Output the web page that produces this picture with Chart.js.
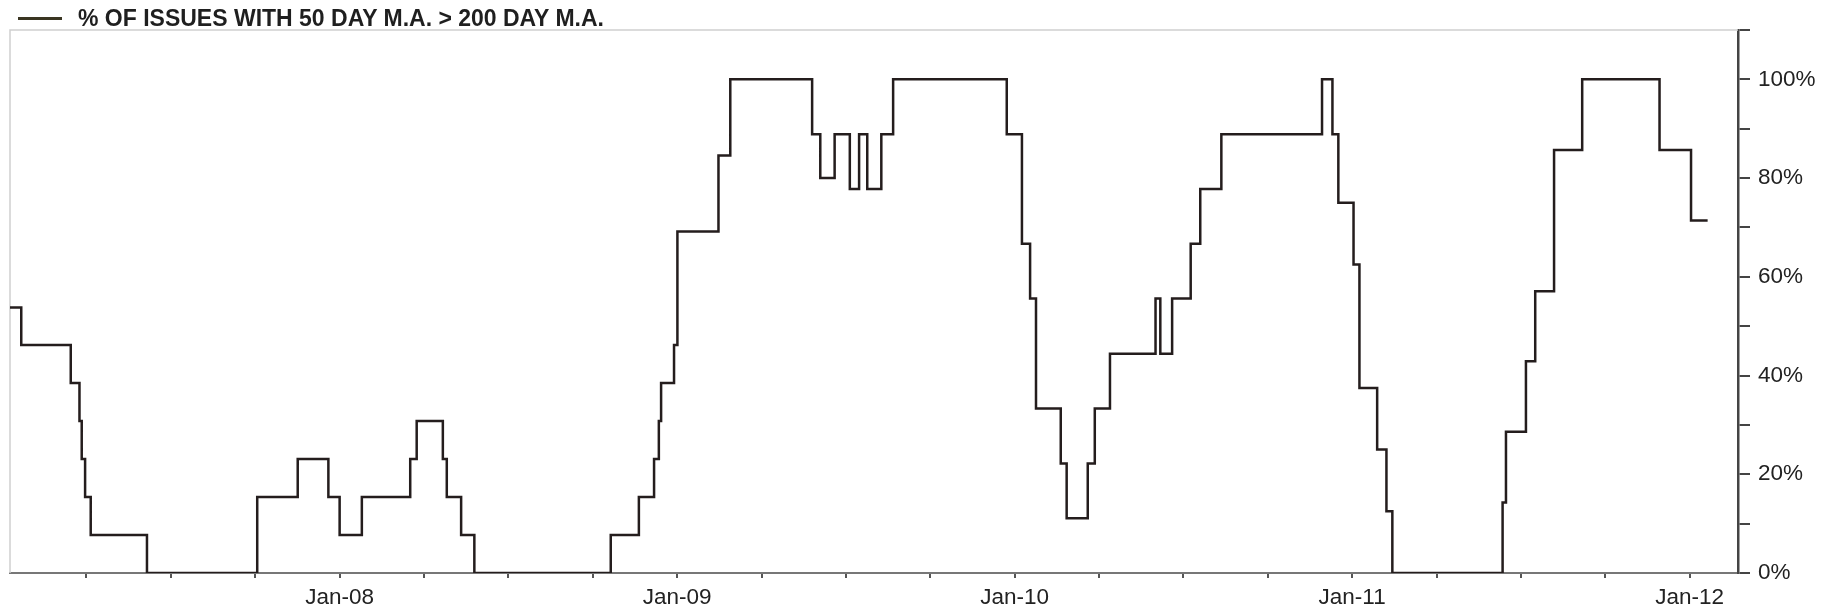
<!DOCTYPE html>
<html>
<head>
<meta charset="utf-8">
<script src="https://cdn.jsdelivr.net/npm/chart.js@4/dist/chart.umd.min.js"></script>
<style>
  body { margin: 0; background: #fff; }
  #wrap { position: relative; width: 1837px; height: 613px; }
  #legend { position: absolute; left: 18px; top: 5px; height: 26px; display: flex; align-items: center;
            font-family: "Liberation Sans", Arial, sans-serif; font-weight: bold; font-size: 23px; color: #1f1f1f; }
  #legend .swatch { width: 44px; height: 3px; background: #3a3522; margin-right: 16px; }
</style>
</head>
<body>
<div id="wrap">
  <canvas id="breadthChart"></canvas>
  <div id="legend"><span class="swatch"></span><span id="legendText"></span></div>
</div>
<script>
// series name
const seriesName = '% OF ISSUES WITH 50 DAY M.A. > 200 DAY M.A.';

// months since Jan 2007 where the reading changes
const changeMonths = [0.28, 0.68, 2.44, 2.75, 2.83, 2.95, 3.15, 5.15, 9.07, 10.51, 11.6, 12.0, 12.79, 14.51, 14.74,
  15.67, 15.81, 16.32, 16.79, 21.64, 22.64, 23.18, 23.35, 23.43, 23.89, 24.01, 25.47, 25.89, 28.80, 29.09, 29.6,
  30.14, 30.47, 30.76, 31.26, 31.68, 35.72, 36.26, 36.55, 36.76, 37.64, 37.85, 38.6, 38.85, 39.39, 41.01, 41.18,
  41.6, 42.26, 42.6, 43.35, 46.93, 47.3, 47.51, 48.05, 48.26, 48.89, 49.22, 49.43, 53.35, 53.47, 54.18, 54.51,
  55.18, 56.18, 58.93, 60.05, 60.64];

// % of issues from each change onward
const pctValues = [53.8, 46.2, 38.5, 30.8, 23.1, 15.4, 7.7, 0, 15.4, 23.1, 15.4, 7.7, 15.4, 23.1, 30.8,
  23.1, 15.4, 7.7, 0, 7.7, 15.4, 23.1, 30.8, 38.5, 46.2, 69.2, 84.6, 100, 88.9, 80, 88.9,
  77.8, 88.9, 77.8, 88.9, 100, 88.9, 66.7, 55.6, 33.3, 22.2, 11.1, 22.2, 33.3, 44.4, 55.6, 44.4,
  55.6, 66.7, 77.8, 88.9, 100, 88.9, 75, 62.5, 37.5, 25, 12.5, 0, 14.3, 28.6, 42.9, 57.1,
  85.7, 100, 85.7, 71.4, 71.4];

// x axis: quarterly ticks, labelled each January
const quarterTicks = [3, 6, 9, 12, 15, 18, 21, 24, 27, 30, 33, 36, 39, 42, 45, 48, 51, 54, 57, 60];
const yearLabels = { 12: 'Jan-08', 24: 'Jan-09', 36: 'Jan-10', 48: 'Jan-11', 60: 'Jan-12' };

// y axis: ticks every 10%, labels every 20%
const pctTicks = [0, 20, 40, 60, 80, 100];

document.getElementById('legendText').textContent = seriesName;

const points = changeMonths.map((m, i) => ({ x: m, y: pctValues[i] }));

// light frame along the top and left of the plot
const frameLines = {
  id: 'frameLines',
  beforeDatasetsDraw(chart) {
    const { ctx, chartArea: a } = chart;
    ctx.save();
    ctx.strokeStyle = '#d0d0d0';
    ctx.lineWidth = 1.5;
    ctx.beginPath();
    ctx.moveTo(a.left, a.bottom);
    ctx.lineTo(a.left, a.top);
    ctx.lineTo(a.right, a.top);
    ctx.stroke();
    ctx.restore();
  }
};

const tickFont = { family: '"Liberation Sans", Arial, sans-serif', size: 22.5 };

new Chart(document.getElementById('breadthChart'), {
  type: 'line',
  data: {
    datasets: [{
      label: seriesName,
      data: points,
      stepped: true,
      borderColor: '#241d1d',
      borderWidth: 2.5,
      pointRadius: 0,
      fill: false
    }]
  },
  options: {
    responsive: true,
    maintainAspectRatio: false,
    animation: false,
    layout: { padding: { left: 10, top: 30, right: 0, bottom: 0 } },
    plugins: { legend: { display: false }, tooltip: { enabled: false } },
    scales: {
      x: {
        type: 'linear',
        min: 0.28,
        max: 61.72,
        afterBuildTicks: scale => { scale.ticks = quarterTicks.map(v => ({ value: v })); },
        afterFit: scale => { scale.height = 40; },
        grid: { drawOnChartArea: false, tickLength: 5, color: '#555', lineWidth: 2 },
        border: { color: '#777', width: 2 },
        ticks: {
          autoSkip: false,
          maxRotation: 0,
          padding: 6,
          color: '#222',
          font: tickFont,
          callback: v => yearLabels[v] || ''
        }
      },
      y: {
        position: 'right',
        min: 0,
        max: 110,
        afterFit: scale => { scale.width = 99; },
        grid: { drawOnChartArea: false, tickLength: 12, color: '#444', lineWidth: 2 },
        border: { color: '#444', width: 2.5 },
        ticks: {
          stepSize: 10,
          padding: 8,
          color: '#222',
          font: tickFont,
          callback: v => pctTicks.includes(v) ? v + '%' : ''
        }
      }
    }
  },
  plugins: [frameLines]
});
</script>
</body>
</html>
